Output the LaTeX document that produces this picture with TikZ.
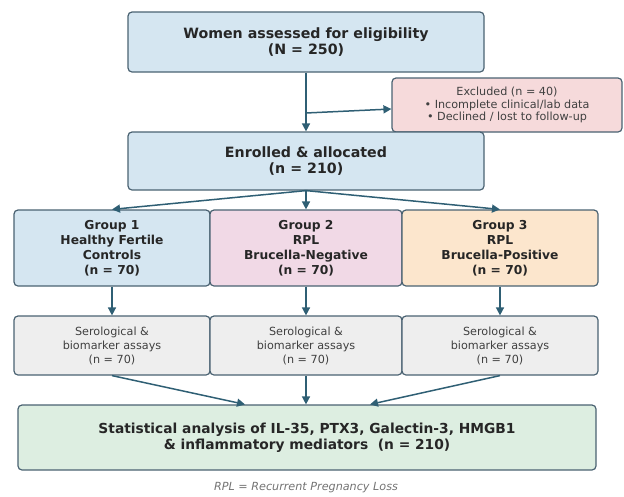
\documentclass[tikz,border=0pt]{standalone}
\usepackage{fontspec}
\setmainfont{DejaVu Sans}
\usetikzlibrary{arrows.meta}

\definecolor{bordo}{HTML}{4A6272}
\definecolor{freccia}{HTML}{2F5F74}
\definecolor{azzurro}{HTML}{D5E6F1}
\definecolor{rosa}{HTML}{F6DADB}
\definecolor{lilla}{HTML}{F1D9E6}
\definecolor{pesca}{HTML}{FCE6CD}
\definecolor{grigio}{HTML}{EEEEEE}
\definecolor{verde}{HTML}{DDEEE1}

\begin{document}
\begin{tikzpicture}[x=1pt, y=-1pt,
    box/.style={draw=bordo, line width=1.2pt, rounded corners=4pt, align=center,
                inner sep=0pt, text=black!85},
    titolo/.style={font=\bfseries\fontsize{14.2}{16.5}\selectfont},
    gruppo/.style={font=\bfseries\fontsize{12.3}{15}\selectfont},
    saggio/.style={font=\fontsize{11.2}{14}\selectfont, text=black!75},
    arr/.style={-{Triangle[length=8pt,width=8pt]}, draw=freccia, line width=1.5pt}]

    \useasboundingbox (0,0) rectangle (624,496);

    % -- Parte superiore: screening ed esclusi --
    \node[box, titolo, fill=azzurro, minimum width=356, minimum height=60] (screen) at (306,42)
        {Women assessed for eligibility\\(N = 250)};
    \node[box, fill=rosa, minimum width=230, minimum height=54,
          font=\fontsize{11.2}{12.8}\selectfont, text=black!75] (escl) at (507,105)
        {Excluded (n = 40)\\• Incomplete clinical/lab data\\• Declined / lost to follow-up};
    \node[box, titolo, fill=azzurro, minimum width=356, minimum height=58] (enrol) at (306,161)
        {Enrolled \& allocated\\(n = 210)};

    \coordinate (bivio) at (306,113);
    \draw[arr] (screen.south) -- (enrol.north);
    \draw[arr] (bivio) -- ([yshift=-4pt]escl.west);

    % -- Parte centrale: i tre gruppi --
    \node[box, gruppo, fill=azzurro, minimum width=196, minimum height=76] (g1) at (112,248)
        {Group 1\\Healthy Fertile\\Controls\\(n = 70)};
    \node[box, gruppo, fill=lilla, minimum width=192, minimum height=76] (g2) at (306,248)
        {Group 2\\RPL\\Brucella-Negative\\(n = 70)};
    \node[box, gruppo, fill=pesca, minimum width=196, minimum height=76] (g3) at (500,248)
        {Group 3\\RPL\\Brucella-Positive\\(n = 70)};

    \foreach \g in {g1,g2,g3}
        \draw[arr] (enrol.south) -- (\g.north);

    % Saggi sierologici per ogni gruppo
    \node[box, saggio, fill=grigio, minimum width=196, minimum height=59] (a1) at (112,345.5)
        {Serological \&\\biomarker assays\\(n = 70)};
    \node[box, saggio, fill=grigio, minimum width=192, minimum height=59] (a2) at (306,345.5)
        {Serological \&\\biomarker assays\\(n = 70)};
    \node[box, saggio, fill=grigio, minimum width=196, minimum height=59] (a3) at (500,345.5)
        {Serological \&\\biomarker assays\\(n = 70)};

    \draw[arr] (g1.south) -- (a1.north);
    \draw[arr] (g2.south) -- (a2.north);
    \draw[arr] (g3.south) -- (a3.north);

    % -- Parte inferiore: analisi statistica --
    \node[box, fill=verde, minimum width=578, minimum height=65,
          font=\bfseries\fontsize{13.8}{16.5}\selectfont] (analisi) at (307,437.5)
        {Statistical analysis of IL-35, PTX3, Galectin-3, HMGB1\\\& inflammatory mediators ~(n = 210)};

    \draw[arr] (a1.south) -- ([xshift=-62pt]analisi.north);
    \draw[arr] (a2.south) -- (a2.south |- analisi.north);
    \draw[arr] (a3.south) -- ([xshift=63pt]analisi.north);

    \node[font=\itshape\fontsize{11.2}{13}\selectfont, text=black!55] (nota) at (306,488)
        {RPL = Recurrent Pregnancy Loss};
\end{tikzpicture}
\end{document}
